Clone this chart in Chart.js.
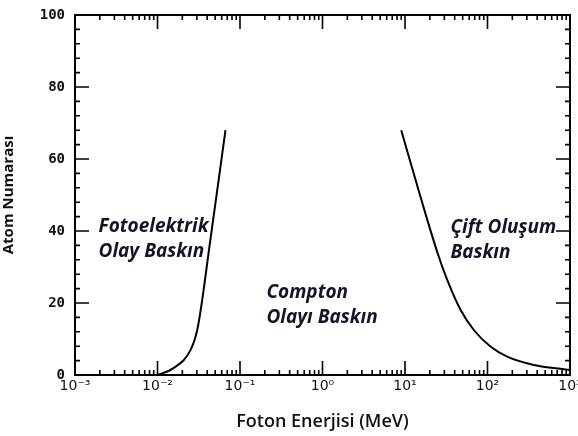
<!DOCTYPE html>
<html>
<head>
<meta charset="utf-8">
<script src="https://cdn.jsdelivr.net/npm/chart.js@4.4.1/dist/chart.umd.min.js"></script>
<style>
  html, body { margin: 0; padding: 0; background: #fff; }
  #wrap { width: 578px; height: 436px; }
</style>
</head>
<body>
<div id="wrap"><canvas id="chart" width="578" height="436"></canvas></div>
<script>
// data (energy in MeV, Z = atom number)
var photoEnergy = [0.0100, 0.0156, 0.0251, 0.0303, 0.0348, 0.0416, 0.0573, 0.0667];
var photoZ      = [0,      1.9,    6.9,    12.5,   20.8,   33.9,   57,     68];

var pairEnergy  = [9.0, 15.4, 24.8, 32.5, 47.1, 68.2, 108.7, 173, 364, 841, 1000];
var pairZ       = [68,  49.5, 33.9, 26.4, 18.1, 12.5, 7.9,   5.1, 2.8, 1.6, 1.4];

var xDecades = [0.001, 0.01, 0.1, 1, 10, 100, 1000];
var xTickLabels = ["10⁻³", "10⁻²", "10⁻¹", "10⁰", "10¹", "10²", "10³"];
var yTicks = [0, 20, 40, 60, 80, 100];

// region labels: [line1, line2, energy, Z]
var regionLabels = [
    ["Fotoelektrik", "Olay Baskın", 0.00193, 39.7],
    ["Compton", "Olayı Baskın", 0.209, 21.4],
    ["Çift Oluşum", "Baskın", 35.6, 39.4]
];

function toPoints(xs, ys) {
    return xs.map(function (x, i) { return {x: x, y: ys[i]}; });
}

// frame with inward ticks on all four sides + region texts
var frameTicks = {
    id: 'frameTicks',
    afterDatasetsDraw: function (chart) {
        var ctx = chart.ctx, a = chart.chartArea;
        var xs = chart.scales.x, ys = chart.scales.y;
        ctx.save();
        ctx.strokeStyle = '#000';
        ctx.lineWidth = 2;
        ctx.strokeRect(a.left, a.top, a.right - a.left, a.bottom - a.top);

        ctx.lineWidth = 1.6;
        ctx.beginPath();
        xDecades.forEach(function (d, i) {
            var px = xs.getPixelForValue(d);
            ctx.moveTo(px, a.bottom); ctx.lineTo(px, a.bottom - 14);
            ctx.moveTo(px, a.top); ctx.lineTo(px, a.top + 14);
            if (i < xDecades.length - 1) {
                for (var m = 2; m <= 9; m++) {
                    var mx = xs.getPixelForValue(d * m);
                    ctx.moveTo(mx, a.bottom); ctx.lineTo(mx, a.bottom - 5);
                    ctx.moveTo(mx, a.top); ctx.lineTo(mx, a.top + 5);
                }
            }
        });
        for (var v = 0; v <= 100; v += 4) {
            var py = ys.getPixelForValue(v);
            var len = (v % 20 === 0) ? 14 : 5;
            ctx.moveTo(a.left, py); ctx.lineTo(a.left + len, py);
            ctx.moveTo(a.right, py); ctx.lineTo(a.right - len, py);
        }
        ctx.stroke();

        ctx.fillStyle = '#141428';
        ctx.font = 'italic bold 19px "Open Sans"';
        ctx.textBaseline = 'alphabetic';
        regionLabels.forEach(function (r) {
            var px = xs.getPixelForValue(r[2]);
            var py = ys.getPixelForValue(r[3]);
            ctx.fillText(r[0], px, py);
            ctx.fillText(r[1], px, py + 25);
        });
        ctx.restore();
    }
};

var lineStyle = {
    borderColor: '#000',
    borderWidth: 2,
    pointRadius: 0,
    fill: false,
    cubicInterpolationMode: 'monotone'
};

new Chart(document.getElementById('chart'), {
    type: 'line',
    data: {
        datasets: [
            Object.assign({label: 'photo', data: toPoints(photoEnergy, photoZ)}, lineStyle),
            Object.assign({label: 'pair', data: toPoints(pairEnergy, pairZ)}, lineStyle)
        ]
    },
    options: {
        responsive: false,
        animation: false,
        layout: {padding: {top: 15, right: 8, left: 0, bottom: 0}},
        plugins: {legend: {display: false}, tooltip: {enabled: false}},
        scales: {
            x: {
                type: 'logarithmic',
                min: 0.001,
                max: 1000,
                grid: {display: false, drawTicks: false},
                border: {display: false},
                afterBuildTicks: function (scale) {
                    scale.ticks = xDecades.map(function (v) { return {value: v}; });
                },
                afterFit: function (scale) {
                    scale.height = 61;
                    scale.paddingLeft = 0;
                    scale.paddingRight = 0;
                },
                ticks: {
                    autoSkip: false,
                    maxRotation: 0,
                    padding: 3,
                    color: '#111',
                    font: {family: '"DejaVu Sans"', size: 14},
                    callback: function (value) {
                        var i = xDecades.indexOf(value);
                        return i >= 0 ? xTickLabels[i] : '';
                    }
                },
                title: {
                    display: true,
                    text: 'Foton Enerjisi (MeV)',
                    color: '#111',
                    font: {family: '"Open Sans"', size: 18, weight: '600'},
                    padding: {top: 0, bottom: 3}
                }
            },
            y: {
                min: 0,
                max: 100,
                grid: {display: false, drawTicks: false},
                border: {display: false},
                afterBuildTicks: function (scale) {
                    scale.ticks = yTicks.map(function (v) { return {value: v}; });
                },
                afterFit: function (scale) {
                    scale.width = 75;
                    scale.paddingTop = 0;
                    scale.paddingBottom = 0;
                },
                ticks: {
                    padding: 10,
                    color: '#111',
                    font: {family: '"DejaVu Sans Mono"', size: 14, weight: 'bold'}
                },
                title: {
                    display: true,
                    text: 'Atom Numarası',
                    color: '#111',
                    font: {family: '"Open Sans"', size: 15, weight: 'bold'},
                    padding: {top: 0, bottom: 0}
                }
            }
        }
    },
    plugins: [frameTicks]
});
</script>
</body>
</html>
